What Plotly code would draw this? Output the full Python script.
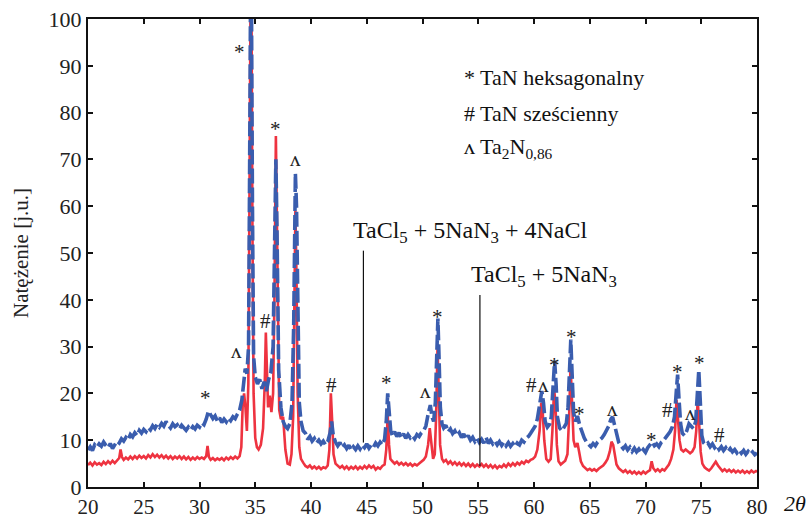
import plotly.graph_objects as go

# Blue series: TaCl5 + 5NaN3 + 4NaCl  (2theta, intensity)
blue_pts = [
    (20.0, 7.9), (20.2, 8.6), (20.4, 7.8), (20.6, 9.0), (20.8, 8.5), (21.0, 9.2), (21.2, 8.7), (21.4, 9.6),
    (21.6, 8.9), (21.8, 8.4), (22.0, 9.3), (22.2, 8.2), (22.4, 9.0), (22.6, 9.8), (22.8, 9.4), (23.0, 10.3),
    (23.2, 9.8), (23.4, 10.6), (23.6, 10.1), (23.8, 11.2), (24.0, 10.7), (24.2, 11.6), (24.4, 11.0), (24.6, 12.1),
    (24.8, 11.5), (25.0, 12.3), (25.2, 11.8), (25.4, 12.7), (25.6, 12.2), (25.8, 13.1), (26.0, 12.5), (26.2, 13.4),
    (26.4, 12.8), (26.6, 13.6), (26.8, 13.0), (27.0, 14.0), (27.2, 13.2), (27.4, 12.6), (27.6, 13.5), (27.8, 12.9),
    (28.0, 13.3), (28.2, 12.4), (28.4, 13.2), (28.6, 12.7), (28.8, 12.1), (29.0, 12.8), (29.2, 12.2), (29.4, 12.9),
    (29.6, 12.4), (29.8, 13.2), (30.0, 12.8), (30.2, 13.7), (30.4, 13.3), (30.6, 14.5), (30.8, 16.2), (31.0, 15.4),
    (31.2, 14.6), (31.4, 15.2), (31.6, 14.1), (31.8, 14.8), (32.0, 13.8), (32.2, 14.5), (32.4, 13.9), (32.6, 14.8),
    (32.8, 14.2), (33.0, 15.0), (33.2, 14.6), (33.4, 15.6), (33.6, 16.4), (33.8, 18.6), (33.95, 22.0), (34.1, 25.3),
    (34.25, 24.2), (34.4, 30.0), (34.5, 70.0), (34.58, 106.0), (34.66, 104.0), (34.75, 60.0), (34.85, 28.0),
    (35.0, 23.5), (35.2, 22.0), (35.4, 23.0), (35.6, 21.0), (35.8, 22.5), (36.0, 20.5), (36.2, 23.0), (36.4, 24.5),
    (36.6, 30.0), (36.75, 55.0), (36.85, 70.0), (36.95, 55.0), (37.1, 25.0), (37.3, 17.0), (37.5, 14.0),
    (37.7, 13.0), (37.9, 12.5), (38.1, 13.5), (38.3, 18.0), (38.45, 35.0), (38.6, 67.0), (38.7, 60.0),
    (38.8, 38.0), (38.95, 18.0), (39.1, 14.0), (39.3, 12.0), (39.5, 11.5), (39.7, 10.2), (39.9, 10.8),
    (40.1, 9.8), (40.3, 10.4), (40.5, 9.4), (40.7, 10.0), (40.9, 9.2), (41.1, 9.8), (41.3, 9.0), (41.5, 9.7),
    (41.7, 11.5), (41.85, 14.0), (42.0, 11.0), (42.2, 9.6), (42.4, 8.8), (42.6, 9.5), (42.8, 8.4), (43.0, 9.0),
    (43.2, 8.2), (43.4, 8.9), (43.6, 7.9), (43.8, 8.6), (44.0, 8.0), (44.2, 8.8), (44.4, 8.1), (44.6, 9.0),
    (44.8, 8.4), (45.0, 9.2), (45.2, 8.3), (45.4, 9.0), (45.6, 8.5), (45.8, 9.4), (46.0, 8.8), (46.2, 9.6),
    (46.4, 9.0), (46.6, 10.2), (46.75, 14.0), (46.88, 20.0), (47.0, 15.0), (47.15, 12.0), (47.3, 11.0),
    (47.5, 11.8), (47.7, 10.8), (47.9, 11.6), (48.1, 10.6), (48.3, 11.4), (48.5, 10.4), (48.7, 11.2),
    (48.9, 10.5), (49.1, 11.0), (49.3, 10.3), (49.5, 11.2), (49.7, 10.8), (49.9, 11.6), (50.1, 12.0),
    (50.3, 13.0), (50.5, 15.5), (50.7, 17.5), (50.85, 15.0), (51.0, 14.0), (51.15, 18.0), (51.28, 30.0),
    (51.38, 36.0), (51.48, 28.0), (51.6, 17.0), (51.75, 13.5), (51.9, 12.6), (52.1, 13.2), (52.3, 11.8),
    (52.5, 12.4), (52.7, 11.4), (52.9, 12.0), (53.1, 11.0), (53.3, 11.6), (53.5, 10.6), (53.7, 11.3),
    (53.9, 10.3), (54.1, 11.0), (54.3, 10.0), (54.5, 10.6), (54.7, 9.7), (54.9, 10.4), (55.1, 9.5), (55.3, 10.2),
    (55.5, 9.4), (55.7, 10.6), (55.9, 9.3), (56.1, 10.0), (56.3, 9.2), (56.5, 9.8), (56.7, 9.0), (56.9, 9.7),
    (57.1, 8.9), (57.3, 9.6), (57.5, 8.8), (57.7, 9.5), (57.9, 8.7), (58.1, 9.3), (58.3, 8.6), (58.5, 9.4),
    (58.7, 9.0), (58.9, 10.0), (59.1, 9.6), (59.3, 10.4), (59.5, 10.8), (59.7, 11.5), (59.9, 12.2), (60.1, 13.0),
    (60.3, 14.5), (60.5, 17.0), (60.7, 20.5), (60.85, 18.0), (61.0, 14.0), (61.2, 12.8), (61.4, 13.4),
    (61.55, 15.0), (61.7, 22.0), (61.85, 27.0), (61.98, 22.0), (62.1, 15.0), (62.3, 12.6), (62.5, 12.0),
    (62.7, 12.8), (62.9, 13.6), (63.05, 17.0), (63.2, 26.0), (63.3, 31.5), (63.42, 24.0), (63.55, 16.0),
    (63.7, 14.0), (63.9, 15.2), (64.1, 13.2), (64.3, 11.5), (64.5, 10.5), (64.7, 9.6), (64.9, 9.0), (65.1, 8.6),
    (65.3, 9.3), (65.5, 8.8), (65.7, 9.6), (65.9, 10.0), (66.1, 10.5), (66.3, 11.2), (66.5, 12.0), (66.7, 13.0),
    (66.9, 14.5), (67.05, 15.0), (67.2, 13.5), (67.4, 11.0), (67.6, 9.5), (67.8, 8.8), (68.0, 8.2), (68.2, 8.8),
    (68.4, 7.9), (68.6, 8.5), (68.8, 7.6), (69.0, 8.3), (69.2, 7.5), (69.4, 8.1), (69.6, 7.3), (69.8, 8.0),
    (70.0, 7.4), (70.2, 8.4), (70.4, 8.9), (70.6, 9.6), (70.8, 8.8), (71.0, 9.2), (71.2, 8.6), (71.4, 9.5),
    (71.6, 9.9), (71.8, 10.6), (72.0, 11.0), (72.2, 11.8), (72.4, 12.8), (72.6, 15.0), (72.75, 20.0),
    (72.88, 24.0), (73.0, 19.0), (73.15, 13.5), (73.3, 11.5), (73.5, 11.0), (73.7, 12.0), (73.9, 13.5),
    (74.1, 13.0), (74.3, 12.5), (74.5, 14.0), (74.65, 20.0), (74.78, 25.0), (74.9, 19.0), (75.05, 11.0),
    (75.2, 9.5), (75.4, 9.0), (75.6, 9.4), (75.8, 8.6), (76.0, 9.2), (76.2, 8.4), (76.4, 8.9), (76.6, 8.0),
    (76.8, 8.6), (77.0, 7.8), (77.2, 8.4), (77.4, 7.6), (77.6, 8.2), (77.8, 7.5), (78.0, 8.0), (78.2, 7.3),
    (78.4, 7.9), (78.6, 7.2), (78.8, 7.8), (79.0, 7.0), (79.2, 7.6), (79.4, 7.0), (79.6, 7.5), (79.8, 6.9),
    (80.0, 7.3),
]

# Red series: TaCl5 + 5NaN3  (2theta, intensity)
red_pts = [
    (20.0, 4.7), (20.2, 5.2), (20.4, 4.6), (20.6, 5.3), (20.8, 4.8), (21.0, 5.1), (21.2, 4.7), (21.4, 5.4),
    (21.6, 4.9), (21.8, 5.5), (22.0, 5.0), (22.2, 5.6), (22.4, 5.1), (22.6, 5.7), (22.8, 6.2), (22.92, 8.0),
    (23.05, 6.4), (23.2, 5.8), (23.4, 6.3), (23.6, 5.9), (23.8, 6.5), (24.0, 6.0), (24.2, 6.6), (24.4, 6.1),
    (24.6, 6.7), (24.8, 6.2), (25.0, 6.6), (25.2, 6.1), (25.4, 6.8), (25.6, 6.3), (25.8, 7.0), (26.0, 6.4),
    (26.2, 6.9), (26.4, 6.3), (26.6, 6.8), (26.8, 6.2), (27.0, 6.7), (27.2, 6.1), (27.4, 6.6), (27.6, 6.0),
    (27.8, 6.5), (28.0, 6.1), (28.2, 6.6), (28.4, 6.0), (28.6, 6.5), (28.8, 5.9), (29.0, 6.4), (29.2, 5.8),
    (29.4, 6.3), (29.6, 5.9), (29.8, 6.4), (30.0, 6.0), (30.2, 6.3), (30.4, 6.0), (30.6, 6.6), (30.72, 8.8),
    (30.85, 6.4), (31.0, 5.8), (31.2, 6.2), (31.4, 5.7), (31.6, 6.1), (31.8, 5.8), (32.0, 6.2), (32.2, 5.7),
    (32.4, 6.3), (32.6, 5.9), (32.8, 6.4), (33.0, 6.0), (33.2, 6.5), (33.4, 6.1), (33.6, 6.6), (33.75, 8.5),
    (33.88, 18.0), (34.0, 20.0), (34.12, 17.0), (34.25, 12.0), (34.38, 22.0), (34.5, 70.0), (34.58, 106.0),
    (34.66, 104.0), (34.75, 55.0), (34.85, 20.0), (35.0, 10.5), (35.15, 8.5), (35.3, 8.0), (35.5, 9.0),
    (35.7, 12.5), (35.85, 22.0), (35.95, 33.0), (36.05, 25.0), (36.15, 17.0), (36.3, 19.5), (36.45, 16.0),
    (36.6, 20.0), (36.72, 40.0), (36.85, 75.0), (36.95, 55.0), (37.05, 25.0), (37.15, 16.5), (37.3, 14.5),
    (37.5, 15.0), (37.7, 8.0), (37.9, 5.0), (38.1, 4.8), (38.25, 7.0), (38.4, 15.0), (38.5, 35.0), (38.6, 59.0),
    (38.7, 45.0), (38.8, 20.0), (38.95, 8.5), (39.1, 6.0), (39.3, 5.2), (39.5, 4.5), (39.7, 4.2), (39.9, 4.6),
    (40.1, 4.0), (40.3, 4.4), (40.5, 3.9), (40.7, 4.3), (40.9, 3.8), (41.1, 4.2), (41.3, 4.0), (41.5, 4.6),
    (41.65, 8.0), (41.78, 20.0), (41.9, 14.0), (42.02, 7.0), (42.2, 5.0), (42.4, 4.6), (42.6, 4.1), (42.8, 4.5),
    (43.0, 3.9), (43.2, 4.4), (43.4, 3.8), (43.6, 4.3), (43.8, 3.9), (44.0, 4.4), (44.2, 3.8), (44.4, 4.3),
    (44.6, 3.9), (44.8, 4.5), (45.0, 4.0), (45.2, 4.6), (45.4, 4.1), (45.6, 4.5), (45.8, 3.7), (46.0, 4.2),
    (46.2, 3.9), (46.4, 4.5), (46.6, 4.8), (46.75, 8.0), (46.88, 15.5), (47.0, 9.0), (47.12, 6.0), (47.3, 5.5),
    (47.5, 5.0), (47.7, 5.4), (47.9, 4.8), (48.1, 5.2), (48.3, 4.7), (48.5, 5.1), (48.7, 4.6), (48.9, 5.0),
    (49.1, 4.5), (49.3, 4.9), (49.5, 4.6), (49.7, 5.0), (49.9, 5.4), (50.1, 5.8), (50.3, 6.5), (50.5, 9.0),
    (50.65, 12.6), (50.8, 9.0), (50.95, 6.0), (51.1, 7.0), (51.22, 15.0), (51.35, 30.0), (51.45, 22.0),
    (51.58, 9.0), (51.75, 6.0), (51.9, 5.4), (52.1, 5.8), (52.3, 5.0), (52.5, 5.5), (52.7, 4.8), (52.9, 5.3),
    (53.1, 4.7), (53.3, 5.2), (53.5, 4.6), (53.7, 5.1), (53.9, 4.5), (54.1, 5.0), (54.3, 4.4), (54.5, 4.9),
    (54.7, 4.3), (54.9, 4.8), (55.1, 4.4), (55.3, 4.9), (55.5, 4.3), (55.7, 4.8), (55.9, 4.2), (56.1, 4.7),
    (56.3, 4.1), (56.5, 4.6), (56.7, 4.0), (56.9, 4.5), (57.1, 4.2), (57.3, 4.8), (57.5, 4.3), (57.7, 5.0),
    (57.9, 4.5), (58.1, 5.1), (58.3, 4.6), (58.5, 5.2), (58.7, 4.8), (58.9, 5.4), (59.1, 5.0), (59.3, 5.6),
    (59.5, 5.3), (59.7, 5.8), (59.9, 6.0), (60.1, 6.5), (60.3, 8.0), (60.5, 12.0), (60.65, 18.0), (60.78, 16.0),
    (60.92, 10.0), (61.1, 6.0), (61.3, 5.4), (61.5, 6.0), (61.65, 12.0), (61.8, 21.0), (61.92, 18.0),
    (62.05, 9.0), (62.2, 5.5), (62.4, 4.8), (62.6, 5.2), (62.8, 5.6), (63.0, 7.0), (63.15, 15.0), (63.28, 26.0),
    (63.4, 20.0), (63.55, 10.0), (63.7, 8.5), (63.9, 9.4), (64.05, 7.5), (64.2, 5.5), (64.4, 4.5), (64.6, 4.0),
    (64.8, 3.6), (65.0, 3.9), (65.2, 3.5), (65.4, 3.8), (65.6, 3.4), (65.8, 3.9), (66.0, 4.2), (66.2, 4.6),
    (66.4, 5.2), (66.6, 6.0), (66.8, 7.6), (66.95, 9.7), (67.1, 9.0), (67.25, 6.5), (67.4, 4.8), (67.6, 4.0),
    (67.8, 3.5), (68.0, 3.2), (68.2, 3.6), (68.4, 3.0), (68.6, 3.4), (68.8, 2.9), (69.0, 3.3), (69.2, 2.8),
    (69.4, 3.2), (69.6, 2.8), (69.8, 3.3), (70.0, 2.9), (70.2, 3.3), (70.4, 3.6), (70.55, 5.5), (70.7, 4.0),
    (70.9, 3.4), (71.1, 3.8), (71.3, 3.3), (71.5, 3.8), (71.7, 3.5), (71.9, 4.1), (72.1, 4.8), (72.3, 6.0),
    (72.5, 8.0), (72.65, 12.0), (72.78, 18.6), (72.9, 15.0), (73.05, 10.0), (73.2, 8.0), (73.4, 7.6),
    (73.6, 8.0), (73.8, 7.5), (74.0, 7.2), (74.2, 7.6), (74.4, 8.5), (74.55, 12.0), (74.68, 18.6), (74.8, 14.0),
    (74.95, 7.5), (75.1, 5.0), (75.3, 4.2), (75.5, 3.8), (75.7, 3.5), (75.9, 4.0), (76.1, 4.6), (76.3, 5.4),
    (76.5, 4.6), (76.7, 3.9), (76.9, 3.4), (77.1, 3.8), (77.3, 3.3), (77.5, 3.7), (77.7, 3.2), (77.9, 3.6),
    (78.1, 3.1), (78.3, 3.5), (78.5, 3.1), (78.7, 3.5), (78.9, 3.0), (79.1, 3.4), (79.3, 3.0), (79.5, 3.5),
    (79.7, 3.1), (79.9, 3.4), (80.0, 3.2),
]

# Phase markers above peaks: (symbol, 2theta, intensity)
peak_marks = [
    ("*", 33.55, 93.0), ("ʌ", 33.35, 29.0), ("#", 35.95, 35.5), ("*", 36.85, 76.5), ("ʌ", 38.65, 70.0),
    ("*", 30.5, 19.0), ("#", 41.85, 21.8), ("*", 46.8, 22.3), ("ʌ", 50.3, 20.5), ("*", 51.3, 36.4),
    ("#", 59.75, 21.8), ("ʌ", 60.85, 21.8), ("*", 61.8, 26.1), ("*", 63.4, 32.1), ("*", 64.1, 15.5),
    ("ʌ", 67.0, 16.7), ("*", 70.5, 10.1), ("#", 71.95, 16.5), ("*", 72.9, 24.6), ("ʌ", 74.0, 15.8),
    ("*", 74.8, 26.6), ("#", 76.6, 11.1),
]

legend_lines = ["* TaN heksagonalny", "# TaN sześcienny", "ʌ Ta<sub>2</sub>N<sub>0,86</sub>"]
legend_y = [87.6, 79.9, 72.4]

series_labels = ["TaCl<sub>5</sub> + 5NaN<sub>3</sub> + 4NaCl", "TaCl<sub>5</sub> + 5NaN<sub>3</sub>"]
label_text_x = [43.6, 54.2]
label_text_y = [54.5, 45.1]
pointer_x = [44.7, 55.15]
pointer_top = [50.5, 41.0]
pointer_bottom = [9.5, 4.5]

x_ticks = [20, 25, 30, 35, 40, 45, 50, 55, 60, 65, 70, 75, 80]
y_ticks = [0, 10, 20, 30, 40, 50, 60, 70, 80, 90, 100]

FONT = "Liberation Serif"
BLUE = "#3A5DAE"
RED = "#EE3340"

fig = go.Figure()
fig.add_trace(go.Scatter(x=[p[0] for p in red_pts], y=[p[1] for p in red_pts], mode="lines",
                         line=dict(color=RED, width=2.6), showlegend=False))
fig.add_trace(go.Scatter(x=[p[0] for p in blue_pts], y=[p[1] for p in blue_pts], mode="lines",
                         line=dict(color=BLUE, width=3.6, dash="15px,4px"), showlegend=False))

annotations = []
for sym, x, y in peak_marks:
    annotations.append(dict(x=x, y=y, xref="x", yref="y", text=sym, showarrow=False,
                            font=dict(family=FONT, size=21, color="#222"), xanchor="center", yanchor="middle"))
for txt, y in zip(legend_lines, legend_y):
    annotations.append(dict(x=53.5, y=y, xref="x", yref="y", text=txt, showarrow=False,
                            font=dict(family=FONT, size=22, color="#111"), xanchor="left", yanchor="middle"))
for txt, x, y in zip(series_labels, label_text_x, label_text_y):
    annotations.append(dict(x=x, y=y, xref="x", yref="y", text=txt, showarrow=False,
                            font=dict(family=FONT, size=24, color="#111"), xanchor="left", yanchor="middle"))
annotations.append(dict(x=1.057, y=-0.036, xref="paper", yref="paper", text="<i>2θ</i>", showarrow=False,
                        font=dict(family=FONT, size=22, color="#111"), xanchor="center", yanchor="middle"))

shapes = []
for x, y0, y1 in zip(pointer_x, pointer_bottom, pointer_top):
    shapes.append(dict(type="line", xref="x", yref="y", x0=x, x1=x, y0=y0, y1=y1,
                       line=dict(color="#111", width=1.2)))

axis_common = dict(showline=True, linecolor="#111", linewidth=2, mirror="ticks", ticks="inside",
                   ticklen=5, tickwidth=1.5, tickcolor="#111", showgrid=False, zeroline=False,
                   automargin=False)

fig.update_layout(
    width=810, height=517,
    margin=dict(l=88, r=53, t=19, b=30),
    paper_bgcolor="white", plot_bgcolor="white",
    xaxis=dict(range=[20, 80], tickvals=x_ticks, tickfont=dict(family=FONT, size=21, color="#222"),
               **axis_common),
    yaxis=dict(range=[0, 100], tickvals=y_ticks, tickfont=dict(family=FONT, size=22, color="#222"),
               title=dict(text="Natężenie [j.u.]", font=dict(family=FONT, size=21, color="#222"), standoff=14),
               **axis_common),
    annotations=annotations,
    shapes=shapes,
)

fig.write_html("out.html", config={"displayModeBar": False},
               post_script="document.body.style.margin='0px';document.body.style.overflow='hidden';")
